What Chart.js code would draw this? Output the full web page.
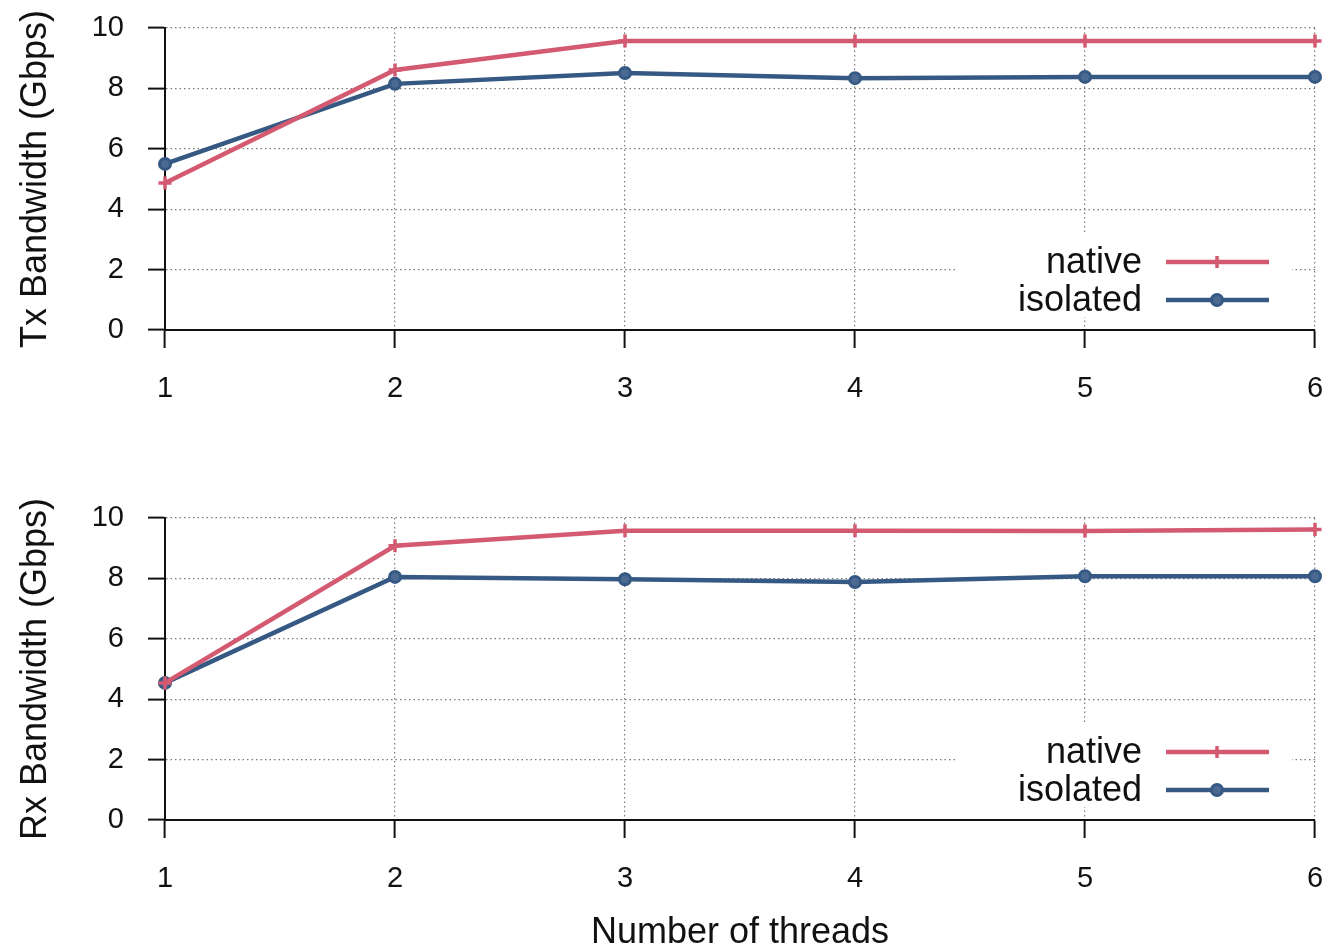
<!DOCTYPE html>
<html>
<head>
<meta charset="utf-8">
<script src="https://cdn.jsdelivr.net/npm/chart.js@4"></script>
<style>
  html, body { margin: 0; padding: 0; background: #fff; }
  #wrap { position: relative; width: 1326px; height: 951px; overflow: hidden; }
  canvas { position: absolute; left: 0; }
</style>
</head>
<body>
<div id="wrap">
  <canvas id="tx" width="1326" height="440" style="top:0px"></canvas>
  <canvas id="rx" width="1326" height="461" style="top:490px"></canvas>
</div>
<script>
const threads = ['1', '2', '3', '4', '5', '6'];
const txNative   = [4.87, 8.61, 9.57, 9.57, 9.57, 9.57];
const txIsolated = [5.50, 8.15, 8.51, 8.34, 8.38, 8.38];
const rxNative   = [4.54, 9.08, 9.58, 9.58, 9.57, 9.62];
const rxIsolated = [4.54, 8.05, 7.97, 7.88, 8.07, 8.07];
const seriesNames = ['native', 'isolated'];
const yMin = 0, yMax = 10, yStep = 2;

const RED = '#d35a70';
const BLUE = '#355983';
const FONT = '"Liberation Sans", Arial, Helvetica, sans-serif';

const legendPlugin = {
  id: 'gpLegend',
  afterDatasetsDraw(chart) {
    const ctx = chart.ctx;
    const ca = chart.chartArea;
    ctx.save();
    // white box behind legend (hides grid like gnuplot)
    const bx = ca.left + 793, by = ca.top + 207;
    ctx.fillStyle = '#fff';
    ctx.fillRect(bx, by, 334, 82);
    ctx.font = '36px ' + FONT;
    ctx.textAlign = 'right';
    ctx.textBaseline = 'middle';
    chart.data.datasets.forEach((ds, i) => {
      const y = ca.top + 234 + i * 38;
      ctx.fillStyle = '#111';
      ctx.fillText(ds.label, ca.left + 977, y + 1);
      ctx.strokeStyle = ds.borderColor;
      ctx.lineWidth = 4.5;
      ctx.beginPath();
      ctx.moveTo(ca.left + 1001, y);
      ctx.lineTo(ca.left + 1104, y);
      ctx.stroke();
      const mx = ca.left + 1052;
      if (ds.pointStyle === 'cross') {
        ctx.lineWidth = 3.5;
        ctx.beginPath();
        ctx.moveTo(mx, y - 6); ctx.lineTo(mx, y + 6);
        ctx.moveTo(mx - 6, y); ctx.lineTo(mx + 6, y);
        ctx.stroke();
      } else {
        ctx.fillStyle = ds.pointBackgroundColor;
        ctx.lineWidth = 3;
        ctx.beginPath();
        ctx.arc(mx, y, 5.5, 0, Math.PI * 2);
        ctx.fill();
        ctx.stroke();
      }
    });
    ctx.restore();
  }
};

function makeChart(id, yTitle, nativeVals, isolatedVals, showXTitle, totalH) {
  const xScaleH = totalH - 330;
  return new Chart(document.getElementById(id), {
    type: 'line',
    data: {
      labels: threads,
      datasets: [
        {
          label: seriesNames[0], data: nativeVals,
          borderColor: RED, backgroundColor: RED, borderWidth: 4.5,
          pointStyle: 'cross', pointRadius: 6.5, pointBorderWidth: 3.5,
          pointBorderColor: RED, pointBackgroundColor: RED,
          tension: 0, clip: false
        },
        {
          label: seriesNames[1], data: isolatedVals,
          borderColor: BLUE, backgroundColor: BLUE, borderWidth: 4.5,
          pointStyle: 'circle', pointRadius: 5.5, pointBorderWidth: 3,
          pointBorderColor: BLUE, pointBackgroundColor: '#4a6a92',
          tension: 0, clip: false
        }
      ]
    },
    options: {
      responsive: false,
      animation: false,
      events: [],
      layout: { padding: { top: 28, right: 11, left: 0, bottom: 0 } },
      plugins: { legend: { display: false }, tooltip: { enabled: false } },
      scales: {
        x: {
          type: 'category',
          offset: false,
          afterFit(scale) {
            scale.height = xScaleH;
            scale.paddingLeft = 0; scale.paddingRight = 0;
          },
          grid: {
            color: '#7a7a7a', lineWidth: 1.2,
            drawTicks: true, tickLength: 18, tickColor: '#111', tickWidth: 2, tickBorderDash: []
          },
          border: { display: true, color: '#111', width: 2, dash: [1.5, 3] },
          ticks: { color: '#111', font: { family: FONT, size: 29 }, padding: 24, maxRotation: 0, autoSkip: false },
          title: {
            display: showXTitle, text: 'Number of threads', color: '#111',
            font: { family: FONT, size: 36, lineHeight: 1 }, padding: { top: 0, bottom: 0 }
          }
        },
        y: {
          min: yMin, max: yMax,
          afterFit(scale) {
            scale.width = 165;
            scale.paddingTop = 0; scale.paddingBottom = 0;
          },
          grid: {
            color: '#7a7a7a', lineWidth: 1.2,
            drawTicks: true, tickLength: 17, tickColor: '#111', tickWidth: 2, tickBorderDash: []
          },
          border: { display: true, color: '#111', width: 2, dash: [1.5, 3] },
          ticks: { stepSize: yStep, color: '#111', font: { family: FONT, size: 29 }, padding: 24 },
          title: {
            display: true, text: yTitle, color: '#111',
            font: { family: FONT, size: 36, lineHeight: 1 }, padding: { top: 18, bottom: 0 }
          }
        }
      }
    },
    plugins: [legendPlugin]
  });
}

makeChart('tx', 'Tx Bandwidth (Gbps)', txNative, txIsolated, false, 440);
makeChart('rx', 'Rx Bandwidth (Gbps)', rxNative, rxIsolated, true, 461);
</script>
</body>
</html>
